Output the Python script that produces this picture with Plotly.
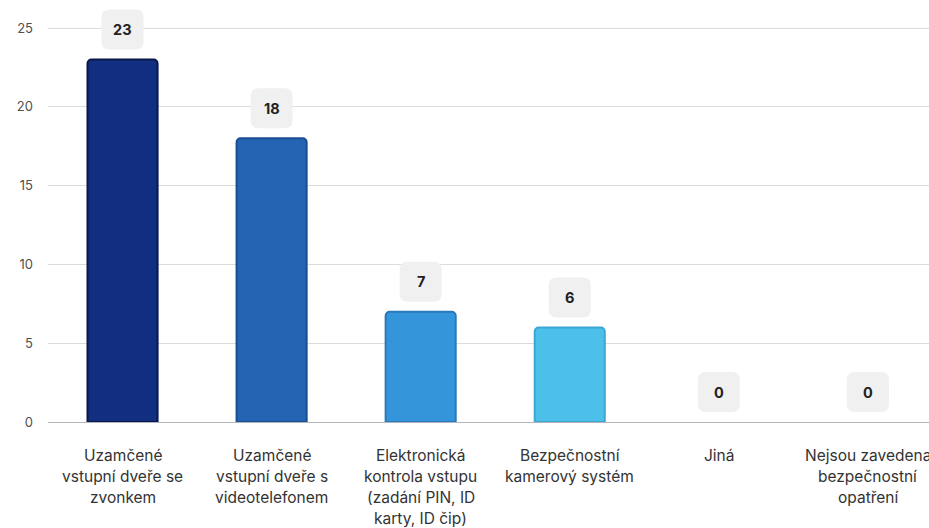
import plotly.graph_objects as go

categories = [
    "Uzamčené<br>vstupní dveře se<br>zvonkem",
    "Uzamčené<br>vstupní dveře s<br>videotelefonem",
    "Elektronická<br>kontrola vstupu<br>(zadání PIN, ID<br>karty, ID čip)",
    "Bezpečnostní<br>kamerový systém",
    "Jiná",
    "Nejsou zavedena<br>bezpečnostní<br>opatření",
]
values = [23, 18, 7, 6, 0, 0]
fill_colors = ["#112e80", "#2563b3", "#3595db", "#4dc0ea", "#4dc0ea", "#4dc0ea"]
line_colors = ["#08184a", "#1a4d92", "#2a7ab9", "#3ba7d3", "#3ba7d3", "#3ba7d3"]
y_ticks = [0, 5, 10, 15, 20, 25]

FONT = "Inter, Roboto, Liberation Sans, sans-serif"

fig = go.Figure()
fig.add_trace(go.Bar(
    x=categories, y=values, width=0.47,
    marker=dict(color=fill_colors,
                line=dict(color=line_colors, width=[2 if v > 0 else 0 for v in values]),
                cornerradius=4),
    hoverinfo="skip",
))

# rounded label boxes + text
W, H, R, GAP = 21, 40, 8, 10
for c, v in zip(categories, values):
    b, t = GAP, GAP + H
    path = (f"M {-W+R},{b} L {W-R},{b} Q {W},{b} {W},{b+R} L {W},{t-R} Q {W},{t} {W-R},{t} "
            f"L {-W+R},{t} Q {-W},{t} {-W},{t-R} L {-W},{b+R} Q {-W},{b} {-W+R},{b} Z")
    fig.add_shape(type="path", xref="x", yref="y", xsizemode="pixel", ysizemode="pixel",
                  xanchor=c, yanchor=v, path=path, fillcolor="#f0f0f1",
                  line=dict(width=0), layer="above")
    fig.add_annotation(x=c, y=v, text=f"<b>{v}</b>", showarrow=False, yshift=GAP + H / 2,
                       font=dict(family=FONT, size=14.5, color="#222222"))

# category labels, one annotation per line for taller line spacing
LINE_H, FIRST = 21.3, 33
for c in categories:
    for i, line in enumerate(c.split("<br>")):
        fig.add_annotation(x=c, y=0, text=line, showarrow=False,
                           yshift=-(FIRST + LINE_H * i), yanchor="middle",
                           font=dict(family=FONT, size=15.5, color="#333333"))

plot_h = 528 - 106
top_val = 25 + 28 * 25 / (plot_h - 28)

fig.update_layout(
    width=929, height=528,
    margin=dict(l=48, r=0, t=0, b=106),
    plot_bgcolor="white", paper_bgcolor="white",
    showlegend=False,
    font=dict(family=FONT, size=13, color="#333333"),
    xaxis=dict(
        type="category", range=[-0.5, 5.41],
        showgrid=False, showline=True, linecolor="#b4b4bc", linewidth=1,
        ticks="", showticklabels=False,
    ),
    yaxis=dict(
        range=[0, top_val], tickmode="array", tickvals=y_ticks,
        showgrid=True, gridcolor="#dcdcdc", gridwidth=1,
        zeroline=False, showline=False, ticks="",
        ticklabelstandoff=14,
        tickfont=dict(size=13, color="#505050"),
    ),
)

fig.write_html("out.html", config={"displayModeBar": False},
               post_script="document.body.style.margin='0';")
